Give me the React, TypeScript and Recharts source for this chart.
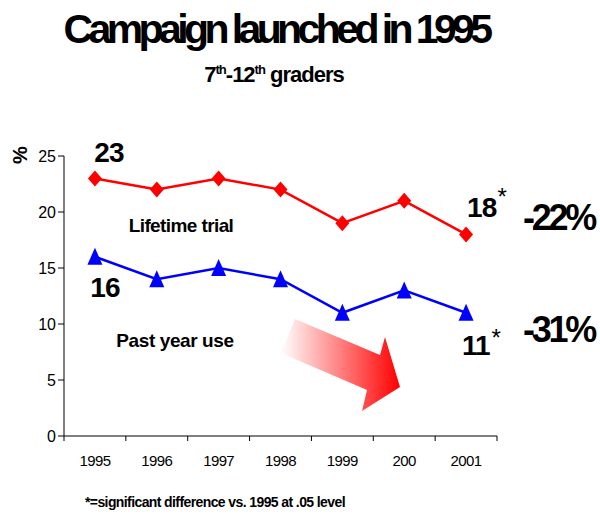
import { LabelList, Line, LineChart, XAxis, YAxis } from "recharts";

const years = ["1995", "1996", "1997", "1998", "1999", "200", "2001"];
const lifetimeTrial = [23, 22, 23, 22, 19, 21, 18];
const pastYearUse = [16, 14, 15, 14, 11, 13, 11];
const yTicks = [0, 5, 10, 15, 20, 25];

const data = years.map((year, i) => ({
  year,
  lifetime: lifetimeTrial[i],
  pastYear: pastYearUse[i],
}));

const FONT = "'Liberation Sans', Arial, sans-serif";
const RED = "#FF0000";
const BLUE = "#0000FF";
const PLOT_LEFT = 64;
const PLOT_RIGHT = 497;
const BAND = (PLOT_RIGHT - PLOT_LEFT) / years.length;
const LAST = years.length - 1;

const pctChange = (arr: number[]) =>
  `${Math.round(((arr[arr.length - 1] - arr[0]) / arr[0]) * 100)}%`;

function YearTick({ x, y, payload, index }: any) {
  const half = BAND / 2;
  return (
    <g>
      <line x1={x - half} x2={x - half} y1={y} y2={y + 5} stroke="#000" />
      {index === LAST ? <line x1={x + half} x2={x + half} y1={y} y2={y + 5} stroke="#000" /> : null}
      <text x={x} y={y + 30} textAnchor="middle" fontSize={15} letterSpacing={-0.6} fontFamily={FONT} fill="#000">
        {payload.value}
      </text>
    </g>
  );
}

const diamond = (p: any) => (
  <polygon
    key={`d-${p.index}`}
    points={`${p.cx},${p.cy - 8} ${p.cx + 7},${p.cy} ${p.cx},${p.cy + 8} ${p.cx - 7},${p.cy}`}
    fill={RED}
  />
);

const triangle = (p: any) => (
  <polygon
    key={`t-${p.index}`}
    points={`${p.cx},${p.cy - 9} ${p.cx + 7.5},${p.cy + 8} ${p.cx - 7.5},${p.cy + 8}`}
    fill={BLUE}
  />
);

const big = { fontFamily: FONT, fontWeight: 700, fill: "#000" } as const;

function LifetimeLabel({ x, y, value, index }: any) {
  if (index === 0) {
    return (
      <text x={x + 14} y={y - 16} textAnchor="middle" fontSize={28} letterSpacing={-1} {...big}>
        {value}
      </text>
    );
  }
  if (index === LAST) {
    return (
      <g>
        <text x={x + 1} y={y - 17} fontSize={28} letterSpacing={-1} {...big}>{value}</text>
        <text x={x + 36} y={y - 29} textAnchor="middle" fontSize={24} fontFamily={FONT} fill="#000">*</text>
        <text x={x + 57} y={y - 4} fontSize={36} letterSpacing={-3.3} {...big}>{pctChange(lifetimeTrial)}</text>
      </g>
    );
  }
  return null;
}

function PastYearLabel({ x, y, value, index }: any) {
  if (index === 0) {
    return (
      <text x={x + 10} y={y + 40} textAnchor="middle" fontSize={28} letterSpacing={-1} {...big}>
        {value}
      </text>
    );
  }
  if (index === LAST) {
    return (
      <g>
        <text x={x - 4} y={y + 42} fontSize={28} letterSpacing={-1} {...big}>{value}</text>
        <text x={x + 30} y={y + 33} textAnchor="middle" fontSize={24} fontFamily={FONT} fill="#000">*</text>
        <text x={x + 57} y={y + 29} fontSize={36} letterSpacing={-3.3} {...big}>{pctChange(pastYearUse)}</text>
      </g>
    );
  }
  return null;
}

export default function App() {
  return (
    <div style={{ position: "absolute", left: 0, top: 0, width: 600, height: 515, background: "#fff" }}>
      <LineChart
        width={600}
        height={515}
        data={data}
        margin={{ top: 156, right: 600 - PLOT_RIGHT, bottom: 49, left: PLOT_LEFT - 40 }}
      >
        <XAxis
          dataKey="year"
          scale="band"
          height={30}
          axisLine={{ stroke: "#000" }}
          tickLine={false}
          tickSize={0}
          tickMargin={0}
          interval={0}
          tick={<YearTick />}
        />
        <YAxis
          width={40}
          domain={[0, 25]}
          ticks={yTicks}
          interval={0}
          axisLine={{ stroke: "#000" }}
          tickLine={{ stroke: "#000" }}
          tickSize={6}
          tickMargin={2}
          tick={{ fill: "#000", fontSize: 16, fontFamily: FONT }}
        />
        <Line
          dataKey="lifetime"
          stroke={RED}
          strokeWidth={2.5}
          dot={diamond}
          activeDot={false}
          isAnimationActive={false}
        >
          <LabelList dataKey="lifetime" content={<LifetimeLabel />} />
        </Line>
        <Line
          dataKey="pastYear"
          stroke={BLUE}
          strokeWidth={2.5}
          dot={triangle}
          activeDot={false}
          isAnimationActive={false}
        >
          <LabelList dataKey="pastYear" content={<PastYearLabel />} />
        </Line>
      </LineChart>

      <svg width={600} height={515} style={{ position: "absolute", left: 0, top: 0, pointerEvents: "none" }}>
        <defs>
          <linearGradient id="arrowFade" x1="281" y1="0" x2="400" y2="0" gradientUnits="userSpaceOnUse">
            <stop offset="0" stopColor={RED} stopOpacity={0} />
            <stop offset="1" stopColor={RED} stopOpacity={1} />
          </linearGradient>
        </defs>
        <text x={276} y={43} textAnchor="middle" fontSize={41} letterSpacing={-4.6} {...big}>
          Campaign launched in 1995
        </text>
        <text x={274} y={82} textAnchor="middle" fontSize={22} letterSpacing={-1} {...big}>
          7<tspan fontSize={13} dy={-8}>th</tspan>
          <tspan fontSize={22} dy={8}>-12</tspan>
          <tspan fontSize={13} dy={-8}>th</tspan>
          <tspan fontSize={22} dy={8}> graders</tspan>
        </text>
        <text x={20} y={155} transform="rotate(-90 20 155)" textAnchor="middle" dominantBaseline="central" fontSize={20} {...big}>
          %
        </text>
        <text x={181} y={232} textAnchor="middle" fontSize={19} letterSpacing={-0.6} {...big}>
          Lifetime trial
        </text>
        <text x={175} y={347} textAnchor="middle" fontSize={19} letterSpacing={-0.4} {...big}>
          Past year use
        </text>
        <polygon
          points="295,319 380,355 385,337 400,387 362,411 367,390 281,353"
          fill="url(#arrowFade)"
        />
        <text x={85} y={507} fontSize={14} letterSpacing={-0.6} {...big}>
          *=significant difference vs. 1995 at .05 level
        </text>
      </svg>
    </div>
  );
}
